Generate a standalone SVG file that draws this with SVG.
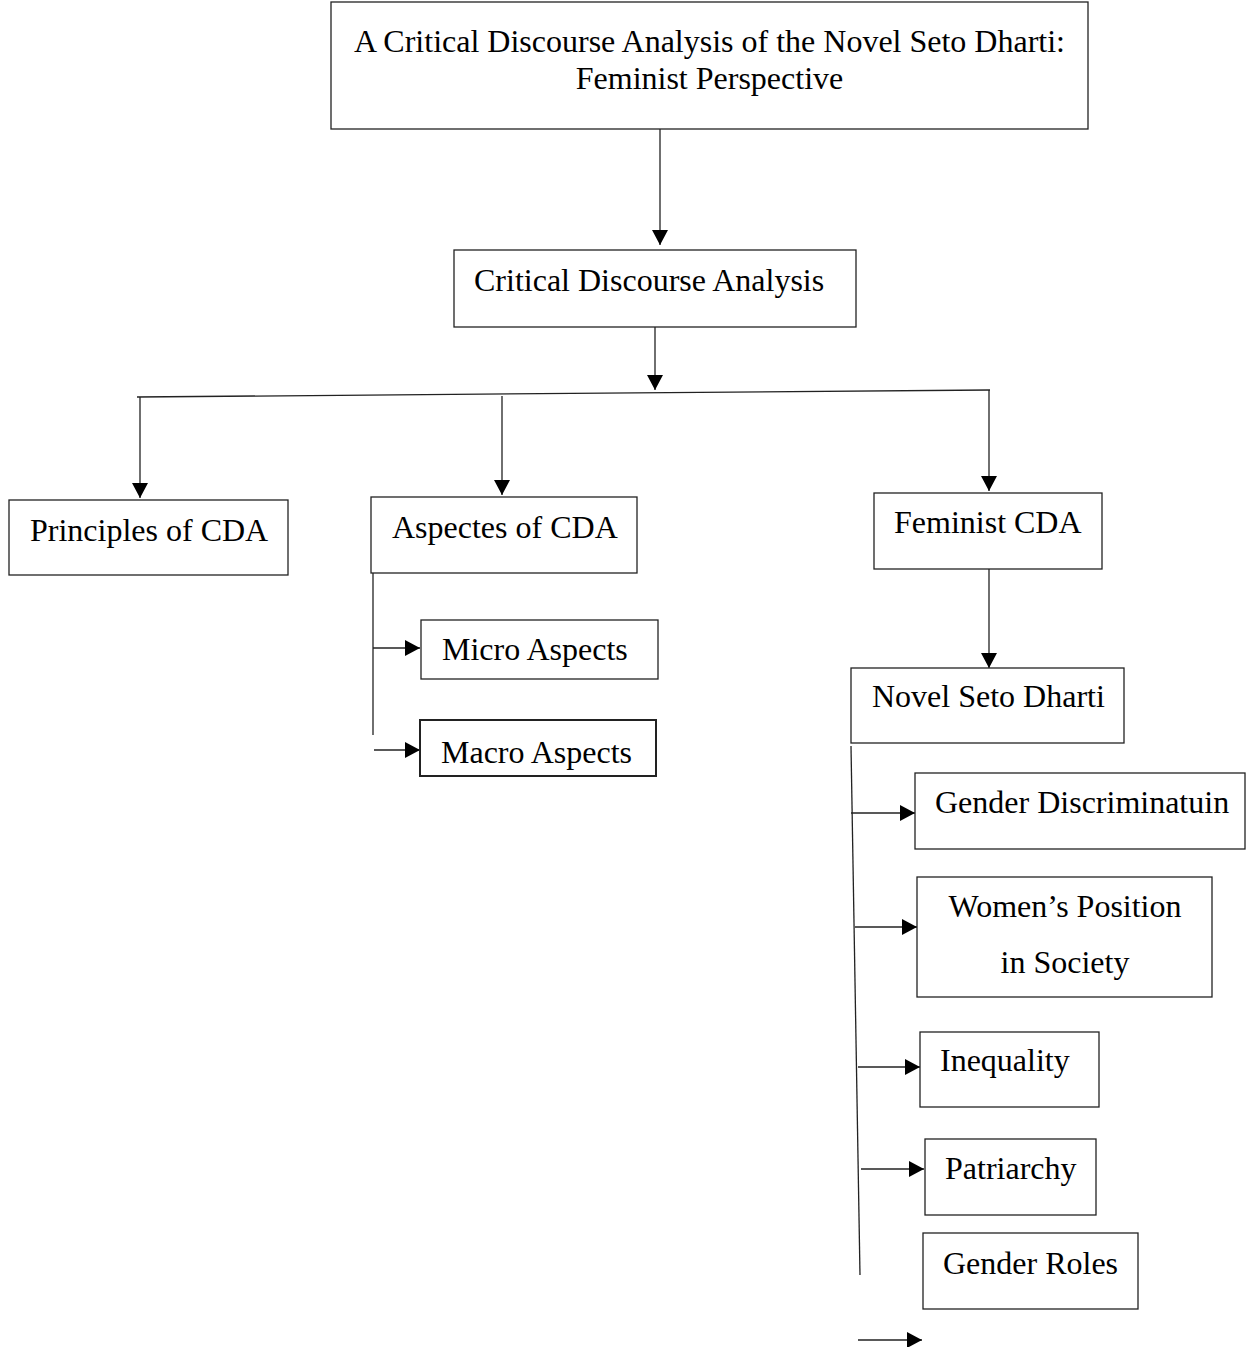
<svg xmlns="http://www.w3.org/2000/svg" width="1246" height="1347" viewBox="0 0 1246 1347">
<style>
.box{fill:#fff;stroke:#222;stroke-width:1.3}
.t{font-family:"Liberation Serif","Times New Roman",serif;font-size:32px;fill:#000}
.c{fill:none;stroke:#222;stroke-width:1.3}
</style>
<defs>
<marker id="ah" markerUnits="userSpaceOnUse" markerWidth="17" markerHeight="18" refX="15" refY="8" orient="auto">
<path d="M0,0 L15,8 L0,16 Z" fill="#000"/>
</marker>
</defs>
<rect width="1246" height="1347" fill="#fff"/>
<g id="connectors">
<line class="c" x1="660" y1="129" x2="660" y2="245" marker-end="url(#ah)"/>
<line class="c" x1="655" y1="327" x2="655" y2="390" marker-end="url(#ah)"/>
<line class="c" x1="137" y1="397" x2="990" y2="390"/>
<line class="c" x1="140" y1="397" x2="140" y2="498" marker-end="url(#ah)"/>
<line class="c" x1="502" y1="396" x2="502" y2="495" marker-end="url(#ah)"/>
<line class="c" x1="989" y1="390" x2="989" y2="491" marker-end="url(#ah)"/>
<line class="c" x1="989" y1="569" x2="989" y2="668" marker-end="url(#ah)"/>
<line class="c" x1="373" y1="573" x2="373" y2="735"/>
<line class="c" x1="373" y1="648" x2="420" y2="648" marker-end="url(#ah)"/>
<line class="c" x1="374" y1="750" x2="420" y2="750" marker-end="url(#ah)"/>
<line class="c" x1="851" y1="746" x2="860" y2="1275"/>
<line class="c" x1="851" y1="813" x2="915" y2="813" marker-end="url(#ah)"/>
<line class="c" x1="855" y1="927" x2="917" y2="927" marker-end="url(#ah)"/>
<line class="c" x1="858" y1="1067" x2="920" y2="1067" marker-end="url(#ah)"/>
<line class="c" x1="861" y1="1169" x2="924" y2="1169" marker-end="url(#ah)"/>
<line class="c" x1="858" y1="1340" x2="922" y2="1340" marker-end="url(#ah)"/>
</g>
<g id="title">
<rect class="box" x="331" y="2" width="757" height="127"/>
<text class="t" x="709.5" y="52" text-anchor="middle">A Critical Discourse Analysis of the Novel Seto Dharti:</text>
<text class="t" x="709.5" y="89" text-anchor="middle">Feminist Perspective</text>
</g>
<g id="cda">
<rect class="box" x="454" y="250" width="402" height="77"/>
<text class="t" x="474" y="291">Critical Discourse Analysis</text>
</g>
<g id="principles">
<rect class="box" x="9" y="500" width="279" height="75"/>
<text class="t" x="30" y="541">Principles of CDA</text>
</g>
<g id="aspects">
<rect class="box" x="371" y="497" width="266" height="76"/>
<text class="t" x="392" y="538">Aspectes of CDA</text>
</g>
<g id="micro">
<rect class="box" x="421" y="620" width="237" height="59"/>
<text class="t" x="442" y="660">Micro Aspects</text>
</g>
<g id="macro">
<rect class="box" x="420" y="720" width="236" height="56" style="stroke-width:2"/>
<text class="t" x="441" y="763">Macro Aspects</text>
</g>
<g id="feminist">
<rect class="box" x="874" y="493" width="228" height="76"/>
<text class="t" x="894" y="533">Feminist CDA</text>
</g>
<g id="novel">
<rect class="box" x="851" y="668" width="273" height="75"/>
<text class="t" x="872" y="707">Novel Seto Dharti</text>
</g>
<g id="gender-discrimination">
<rect class="box" x="915" y="773" width="330" height="76"/>
<text class="t" x="935" y="813">Gender Discriminatuin</text>
</g>
<g id="womens-position">
<rect class="box" x="917" y="877" width="295" height="120"/>
<text class="t" x="1065" y="917" text-anchor="middle">Women’s Position</text>
<text class="t" x="1065" y="973" text-anchor="middle">in Society</text>
</g>
<g id="inequality">
<rect class="box" x="920" y="1032" width="179" height="75"/>
<text class="t" x="940" y="1071">Inequality</text>
</g>
<g id="patriarchy">
<rect class="box" x="925" y="1139" width="171" height="76"/>
<text class="t" x="945" y="1179">Patriarchy</text>
</g>
<g id="gender-roles">
<rect class="box" x="923" y="1233" width="215" height="76"/>
<text class="t" x="943" y="1274">Gender Roles</text>
</g>
</svg>
